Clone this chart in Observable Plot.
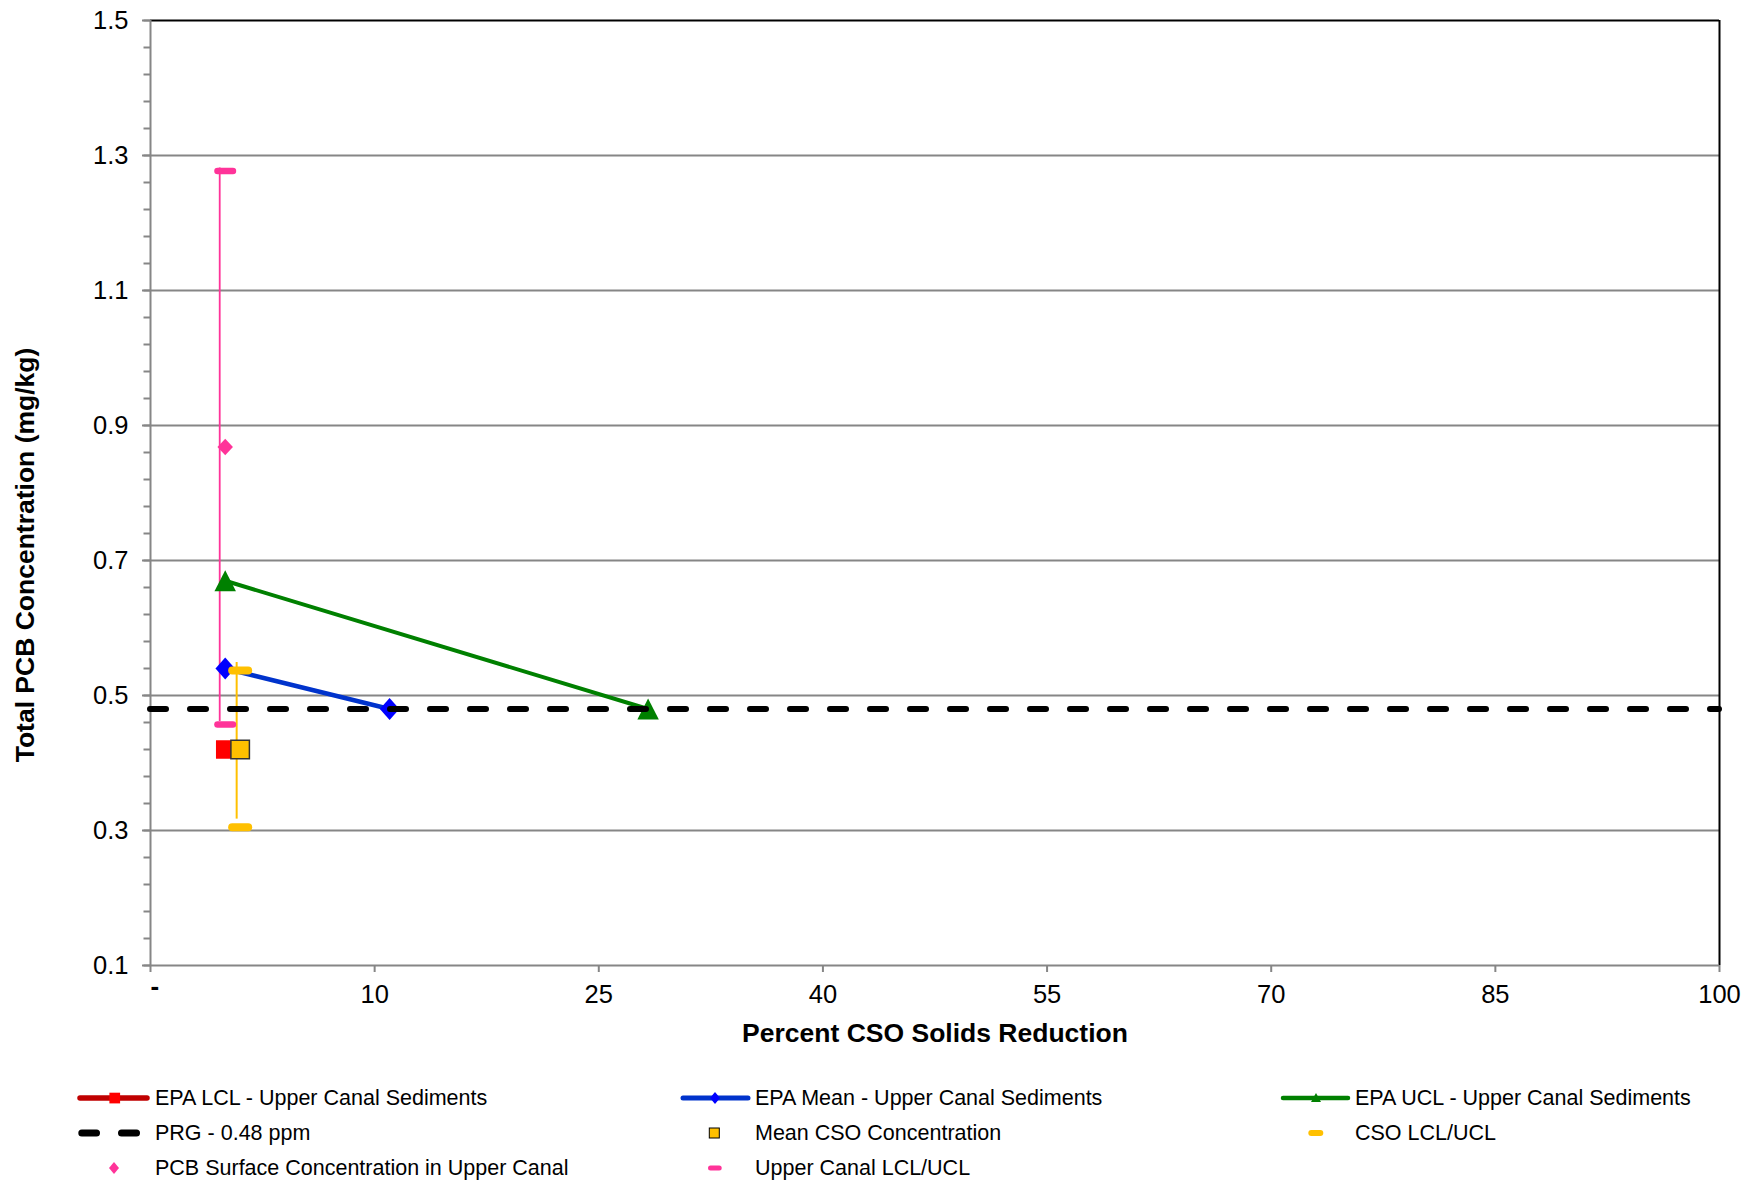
<!DOCTYPE html>
<html>
<head>
<meta charset="utf-8">
<script src="https://cdn.jsdelivr.net/npm/d3@7"></script>
<script src="https://cdn.jsdelivr.net/npm/@observablehq/plot@0.6"></script>
<style>
  body { margin: 0; background: #fff; font-family: "Liberation Sans", Arial, sans-serif; }
  #wrap { width: 1760px; height: 1181px; position: relative; overflow: hidden; }
  #legend { position: relative; width: 1760px; height: 116px; }
  .sw { position: absolute; width: 80px; height: 30px; overflow: visible; }
  .lt { position: absolute; height: 30px; line-height: 30px; font-size: 21.5px; color: #000; white-space: nowrap; }
</style>
</head>
<body>
<div id="wrap">
  <div id="chart"></div>
  <div id="legend"></div>
</div>
<script>
// Axis ticks
const xTickValues = [-5, 10, 25, 40, 55, 70, 85, 100];
const yTickValues = [0.1, 0.3, 0.5, 0.7, 0.9, 1.1, 1.3, 1.5];
const yGridValues = [0.3, 0.5, 0.7, 0.9, 1.1, 1.3];

// Series values (x = percent CSO solids reduction, y = total PCB mg/kg)
const epaLclX = [0];          const epaLclY = [0.42];
const epaMeanX = [0, 11];     const epaMeanY = [0.54, 0.48];
const epaUclX = [0, 28.3];    const epaUclY = [0.67, 0.48];
const prgLevel = 0.48;
const csoMeanX = [1];         const csoMeanY = [0.42];
const csoLimitX = [1, 1];     const csoLimitY = [0.305, 0.537];
const surfaceX = [0];         const surfaceY = [0.868];
const canalLimitX = [0, 0];   const canalLimitY = [0.457, 1.277];

const seriesLabels = [
  "EPA LCL - Upper Canal Sediments",
  "EPA Mean - Upper Canal Sediments",
  "EPA UCL - Upper Canal Sediments",
  "PRG - 0.48 ppm",
  "Mean CSO Concentration",
  "CSO LCL/UCL",
  "PCB Surface Concentration in Upper Canal",
  "Upper Canal LCL/UCL"
];
const xLabel = "Percent CSO Solids Reduction";
const yLabel = "Total PCB Concentration (mg/kg)";

const pts = (xs, ys) => xs.map((x, i) => ({x, y: ys[i]}));
const span = (xs, ys) => [{x: xs[0], y1: ys[0], y2: ys[1]}];

// Marker shapes with fixed pixel dimensions
const shape = fn => ({draw(ctx) { fn(ctx); }});
const square = s => shape(ctx => ctx.rect(-s / 2, -s / 2, s, s));
const diamond = (w, h) => shape(ctx => {
  ctx.moveTo(0, -h / 2); ctx.lineTo(w / 2, 0); ctx.lineTo(0, h / 2); ctx.lineTo(-w / 2, 0); ctx.closePath();
});
const triangle = (w, h) => shape(ctx => {
  ctx.moveTo(0, -h / 2); ctx.lineTo(w / 2, h / 2); ctx.lineTo(-w / 2, h / 2); ctx.closePath();
});
const pill = (w, h) => shape(ctx => {
  const r = h / 2, x0 = -w / 2, x1 = w / 2, y0 = -h / 2, y1 = h / 2;
  ctx.moveTo(x0 + r, y0);
  ctx.arcTo(x1, y0, x1, y1, r);
  ctx.arcTo(x1, y1, x0, y1, r);
  ctx.arcTo(x0, y1, x0, y0, r);
  ctx.arcTo(x0, y0, x1, y0, r);
  ctx.closePath();
});

const GRAY = "#868686";
const RED = "#FF0000", RED_LINE = "#C00000";
const BLUE = "#0000FF", BLUE_LINE = "#0033CC";
const GREEN = "#008000";
const GOLD = "#FFC000";
const PINK = "#FF3399";

const chart = Plot.plot({
  width: 1760,
  height: 1065,
  marginLeft: 150,
  marginRight: 41,
  marginTop: 20,
  marginBottom: 100,
  style: {fontFamily: "'Liberation Sans', Arial, sans-serif", fontSize: "25px", color: "#000", background: "#fff"},
  x: {domain: [-5, 100]},
  y: {domain: [0.1, 1.5]},
  marks: [
    Plot.gridY(yGridValues, {stroke: GRAY, strokeOpacity: 1, strokeWidth: 2}),
    Plot.ruleY([1.5], {stroke: "#000", strokeWidth: 2}),
    Plot.ruleX([100], {stroke: "#000", strokeWidth: 2}),
    // y axis: minor + major ticks
    Plot.axisY(d3.range(36).map(i => 0.1 + i * 0.04), {tickSize: 6.5, tickFormat: () => "", stroke: GRAY, strokeWidth: 2, label: null}),
    Plot.axisY(yTickValues, {tickSize: 8, tickPadding: 14, tickFormat: d3.format(".1f"), stroke: GRAY, strokeWidth: 2, fill: "#000", fontSize: 25.5, label: null}),
    // x axis
    Plot.axisX(xTickValues, {tickSize: 7, tickPadding: 12.5, tickFormat: d => d < 0 ? "" : d, stroke: GRAY, strokeWidth: 2, fill: "#000", fontSize: 25.5, label: null}),
    Plot.axisX([xTickValues[0]], {tickSize: 0, tickPadding: 17, tickFormat: () => "-", textAnchor: "start", dy: -6, fill: "#000", fontSize: 26, fontWeight: "bold", label: null}),
    Plot.ruleX([-5], {stroke: GRAY, strokeWidth: 2}),
    Plot.ruleY([0.1], {stroke: GRAY, strokeWidth: 2}),
    // axis titles
    Plot.text([yLabel], {text: d => d, frameAnchor: "left", textAnchor: "middle", rotate: -90, dx: -125, dy: 62, fontWeight: "bold", fontSize: 26.5, fill: "#000"}),
    Plot.text([xLabel], {text: d => d, frameAnchor: "bottom", dy: 76, fontWeight: "bold", fontSize: 26.5, fill: "#000"}),
    // confidence-limit connectors
    Plot.ruleX(span(canalLimitX, canalLimitY), {x: "x", y1: "y1", y2: "y2", stroke: PINK, strokeWidth: 1.8, dx: -5.5, dy: -3}),
    Plot.ruleX(span(csoLimitX, csoLimitY), {x: "x", y1: "y1", y2: "y2", stroke: GOLD, strokeWidth: 2, dx: -3.5, dy: -8}),
    // EPA LCL
    Plot.line(pts(epaLclX, epaLclY), {x: "x", y: "y", stroke: RED_LINE, strokeWidth: 4.5}),
    Plot.dot(pts(epaLclX, epaLclY), {x: "x", y: "y", symbol: square(18.5), fill: RED, r: 9}),
    // EPA Mean
    Plot.line(pts(epaMeanX, epaMeanY), {x: "x", y: "y", stroke: BLUE_LINE, strokeWidth: 4.5}),
    Plot.dot(pts(epaMeanX, epaMeanY), {x: "x", y: "y", symbol: diamond(19.5, 22), fill: BLUE, r: 9}),
    // EPA UCL
    Plot.line(pts(epaUclX, epaUclY), {x: "x", y: "y", stroke: GREEN, strokeWidth: 4}),
    Plot.dot(pts(epaUclX, epaUclY), {x: "x", y: "y", symbol: triangle(21.5, 21), fill: GREEN, r: 9}),
    // PRG
    Plot.ruleY([prgLevel], {stroke: "#000", strokeWidth: 6, strokeDasharray: "16,24", strokeLinecap: "round"}),
    // CSO mean and limits
    Plot.dot(pts(csoMeanX, csoMeanY), {x: "x", y: "y", symbol: square(18.5), fill: GOLD, stroke: "#333", strokeWidth: 1.5, r: 9}),
    Plot.dot(pts(csoLimitX, csoLimitY), {x: "x", y: "y", symbol: pill(24, 8), fill: GOLD, r: 9}),
    // Upper canal surface concentration and limits
    Plot.dot(pts(surfaceX, surfaceY), {x: "x", y: "y", symbol: diamond(15.5, 16.5), fill: PINK, r: 8}),
    Plot.dot(pts(canalLimitX, canalLimitY), {x: "x", y: "y", symbol: pill(22, 6.5), fill: PINK, r: 9})
  ]
});
document.getElementById("chart").appendChild(chart);

// Legend: three columns, three rows
const NS = "http://www.w3.org/2000/svg";
const legend = document.getElementById("legend");
const colSwatch = [77, 680, 1280];
const colText = [155, 755, 1355];
const rowCenter = [32.7, 68, 103.3];

const swatches = [
  `<line x1="3" y1="15" x2="70" y2="15" stroke="${RED_LINE}" stroke-width="5.5" stroke-linecap="round"/><rect x="32.4" y="9.7" width="10.7" height="10.7" fill="${RED}"/>`,
  `<line x1="3" y1="15" x2="68" y2="15" stroke="${BLUE_LINE}" stroke-width="5" stroke-linecap="round"/><path d="M35,9 L40,15 L35,21 L30,15 Z" fill="${BLUE}"/>`,
  `<line x1="3" y1="15" x2="68" y2="15" stroke="${GREEN}" stroke-width="4.5" stroke-linecap="round"/><path d="M36,10 L41,19 L31,19 Z" fill="${GREEN}"/>`,
  `<line x1="4.8" y1="15" x2="19.5" y2="15" stroke="#000" stroke-width="7" stroke-linecap="round"/><line x1="44.5" y1="15" x2="59.5" y2="15" stroke="#000" stroke-width="7" stroke-linecap="round"/>`,
  `<rect x="29.3" y="10" width="10" height="10" fill="${GOLD}" stroke="#000" stroke-width="1"/>`,
  `<rect x="28.3" y="12" width="15" height="6" rx="3" fill="${GOLD}"/>`,
  `<path d="M37,9 L42,15 L37,21 L32,15 Z" fill="${PINK}"/>`,
  `<rect x="28" y="12.5" width="13.7" height="5" rx="2.5" fill="${PINK}"/>`
];

seriesLabels.forEach((label, i) => {
  const col = i % 3, row = Math.floor(i / 3);
  const svg = document.createElementNS(NS, "svg");
  svg.setAttribute("class", "sw");
  svg.setAttribute("width", 80);
  svg.setAttribute("height", 30);
  svg.style.left = colSwatch[col] + "px";
  svg.style.top = (rowCenter[row] - 15) + "px";
  svg.innerHTML = swatches[i];
  legend.appendChild(svg);
  const t = document.createElement("div");
  t.className = "lt";
  t.style.left = colText[col] + "px";
  t.style.top = (rowCenter[row] - 15) + "px";
  t.textContent = label;
  legend.appendChild(t);
});
</script>
</body>
</html>
